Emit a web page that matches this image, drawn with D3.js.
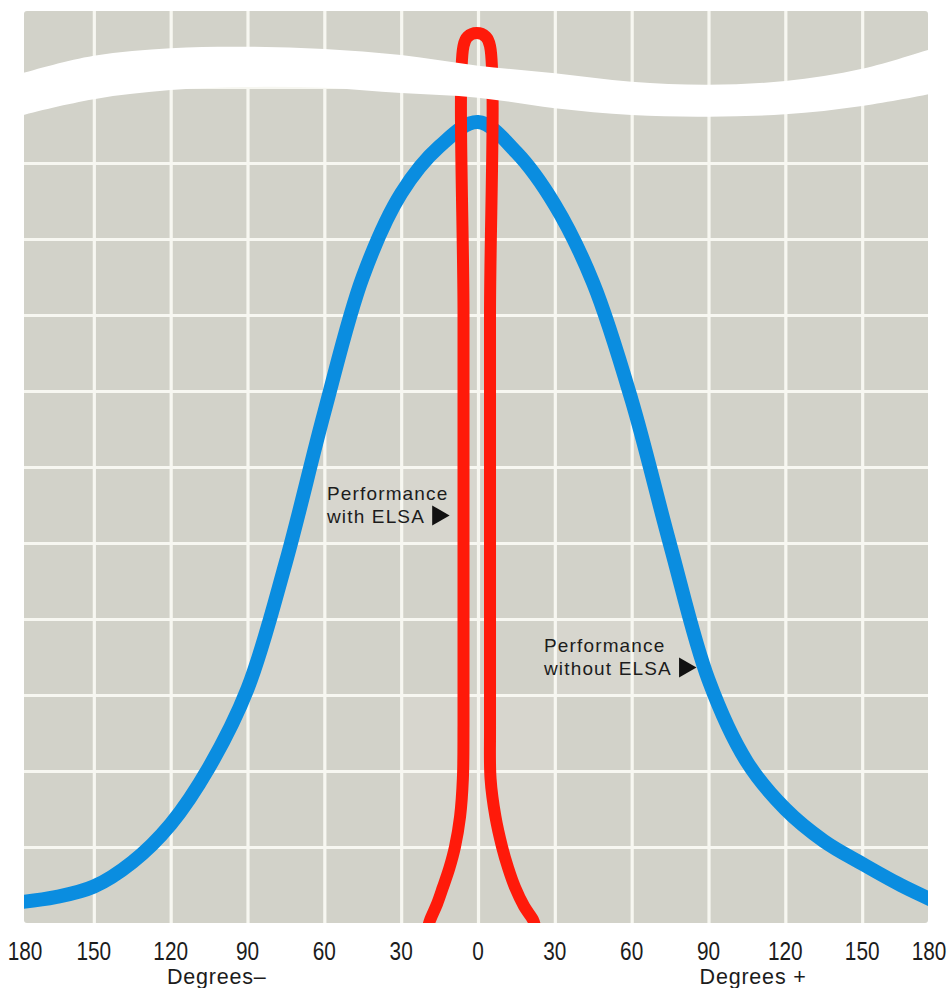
<!DOCTYPE html>
<html>
<head>
<meta charset="utf-8">
<script src="https://cdn.jsdelivr.net/npm/d3@7"></script>
<style>
  html, body { margin: 0; padding: 0; background: #ffffff; }
  svg { display: block; }
  text { font-family: "Liberation Sans", Arial, Helvetica, sans-serif; fill: #1c1c1c; }
</style>
</head>
<body>
<svg id="chart" width="948" height="988"></svg>
<script>
// ---------- data ----------
// Angle (degrees) at which the blue curve was read
const blueDegrees = [-180,-165,-150,-135,-120,-105,-90,-75,-60,-45,-30,-15,0,15,30,45,60,75,90,105,120,135,150,165,180];
// Performance without ELSA (in grid-row units)
const withoutElsa = [0.27,0.34,0.48,0.80,1.30,2.05,3.08,4.75,6.72,8.5,9.6,10.22,10.54,10.14,9.45,8.42,6.88,4.98,3.2,2.12,1.5,1.08,0.78,0.5,0.26];

// Performance with ELSA (a narrow hairpin whose peak runs off the broken axis)
const redDegrees = [-19.5,-18.7,-16,-13.7,-11.2,-9.0,-7.0,-5.9,-5.66,-5.66,-5.66,-5.66,-4.1,-0.5,3.1,4.69,4.69,4.69,4.69,4.9,6.8,9.4,11.8,14.45,18,21.5,22.3];
const withElsa   = [-0.05,0.04,0.25,0.47,0.72,1.0,1.4,1.9,2.6,4.5,8,11.54,11.66,11.71,11.66,11.54,8,4.5,2.6,1.9,1.4,1.0,0.72,0.47,0.22,0.04,-0.05];

// Axis break band (upper and lower edges)
const breakDegrees = [-190,-180,-150,-120,-90,-60,-30,0,30,60,90,120,150,180,190];
const breakUpper   = [11.05,11.16,11.41,11.51,11.53,11.5,11.42,11.28,11.18,11.07,11.03,11.08,11.24,11.53,11.62];
const breakLower   = [10.5,10.61,10.84,10.96,11.0,10.99,10.92,10.86,10.72,10.63,10.61,10.64,10.75,10.93,11.0];

const xTicks = [-180,-150,-120,-90,-60,-30,0,30,60,90,120,150,180];
const yTicks = [1,2,3,4,5,6,7,8,9,10,11];
const axisTitles = [{text: "Degrees\u2013", deg: -102}, {text: "Degrees +", deg: 107.4}];
const labels = [
  {lines: ["Performance", "with ELSA"], deg: -58.96, value: 5.566},
  {lines: ["Performance", "without ELSA"], deg: 25.77, value: 3.566}
];

// ---------- layout ----------
const svg = d3.select("#chart");
const pLeft = 24, pRight = 928, pTop = 11, pBottom = 923;
const x = d3.scaleLinear().domain([-180, 180]).range([17, 939]);
const y = d3.scaleLinear().domain([0, 12]).range([pBottom, pTop]);

const defs = svg.append("defs");
defs.append("clipPath").attr("id", "plotclip")
  .append("rect").attr("x", pLeft).attr("y", pTop)
  .attr("width", pRight - pLeft).attr("height", pBottom - pTop).attr("rx", 3);

// background
svg.append("rect").attr("x", pLeft).attr("y", pTop)
  .attr("width", pRight - pLeft).attr("height", pBottom - pTop)
  .attr("rx", 3).attr("fill", "#d2d2c9");

const plot = svg.append("g").attr("clip-path", "url(#plotclip)");

// slightly lighter cells (print variation)
const lighter = [[-60,-30,5,6],[-30,0,5,6],[-90,-60,3,5],[30,60,3,4],[60,90,3,4],[-30,0,1,3],[0,30,1,3]];
plot.selectAll("rect.light").data(lighter).join("rect")
  .attr("x", d => x(d[0])).attr("width", d => x(d[1]) - x(d[0]))
  .attr("y", d => y(d[3])).attr("height", d => y(d[2]) - y(d[3]))
  .attr("fill", "#d7d6ce");

// grid
const gridColor = "#f7f7f1";
plot.append("g")
  .attr("transform", `translate(0,${pBottom})`)
  .call(d3.axisBottom(x).tickValues(xTicks.slice(1, -1)).tickSize(-(pBottom - pTop)).tickFormat(""))
  .call(g => g.select(".domain").remove())
  .call(g => g.selectAll("line").attr("stroke", gridColor).attr("stroke-width", 3.2));
plot.append("g")
  .attr("transform", `translate(${pLeft},0)`)
  .call(d3.axisLeft(y).tickValues(yTicks).tickSize(-(pRight - pLeft)).tickFormat(""))
  .call(g => g.select(".domain").remove())
  .call(g => g.selectAll("line").attr("stroke", gridColor).attr("stroke-width", 3.2));

// blue curve
const line = d3.line().x(d => x(d[0])).y(d => y(d[1])).curve(d3.curveCatmullRom.alpha(0.5));
const blueData = blueDegrees.map((d, i) => [d, withoutElsa[i]]);
plot.append("path").datum(blueData)
  .attr("d", line).attr("fill", "none")
  .attr("stroke", "#0a8de0").attr("stroke-width", 14).attr("stroke-linecap", "butt");

// red curve
const redData = redDegrees.map((d, i) => [d, withElsa[i]]);
plot.append("path").datum(redData)
  .attr("d", line).attr("fill", "none")
  .attr("stroke", "#ff1a0a").attr("stroke-width", 12).attr("stroke-linejoin", "round");

// axis break band
const bandData = breakDegrees.map((d, i) => ({d, u: breakUpper[i], l: breakLower[i]}));
svg.append("path").datum(bandData)
  .attr("d", d3.area().x(p => x(p.d)).y0(p => y(p.l)).y1(p => y(p.u)).curve(d3.curveCatmullRom.alpha(0.5)))
  .attr("fill", "#ffffff");

// x-axis tick labels (condensed face)
const xAxis = svg.append("g")
  .attr("transform", `translate(0,${pBottom})`)
  .call(d3.axisBottom(x).tickValues(xTicks).tickSize(0).tickFormat(d => Math.abs(d)));
xAxis.select(".domain").remove();
xAxis.selectAll(".tick")
  .attr("transform", d => `translate(${Math.min(Math.max(x(d), pLeft + 1), pRight + 1)},0)`);
xAxis.selectAll("text")
  .attr("font-family", "Liberation Sans, Arial, sans-serif")
  .attr("font-size", 26).attr("fill", "#1c1c1c")
  .attr("y", 0).attr("dy", 0)
  .attr("transform", "translate(0,37) scale(0.8,1)");

// axis titles
svg.selectAll("text.title").data(axisTitles).join("text")
  .attr("class", "title")
  .attr("x", d => x(d.deg)).attr("y", 984)
  .attr("text-anchor", "middle").attr("font-size", 21.5).attr("letter-spacing", 0.8)
  .text(d => d.text);

// annotations
labels.forEach(l => {
  const g = svg.append("g").attr("transform", `translate(${x(l.deg)},${y(l.value)})`);
  const t = g.append("text").attr("font-size", 19).attr("letter-spacing", 1.15);
  t.append("tspan").attr("x", 0).attr("dy", 0).text(l.lines[0]);
  const t2 = t.append("tspan").attr("x", 0).attr("dy", 23).text(l.lines[1]);
  const w = t2.node().getComputedTextLength();
  g.append("path")
    .attr("d", d3.symbol().type(d3.symbolTriangle).size(175)())
    .attr("transform", `translate(${w + 13},${23 - 7.5}) rotate(90)`)
    .attr("fill", "#111");
});
</script>
</body>
</html>
